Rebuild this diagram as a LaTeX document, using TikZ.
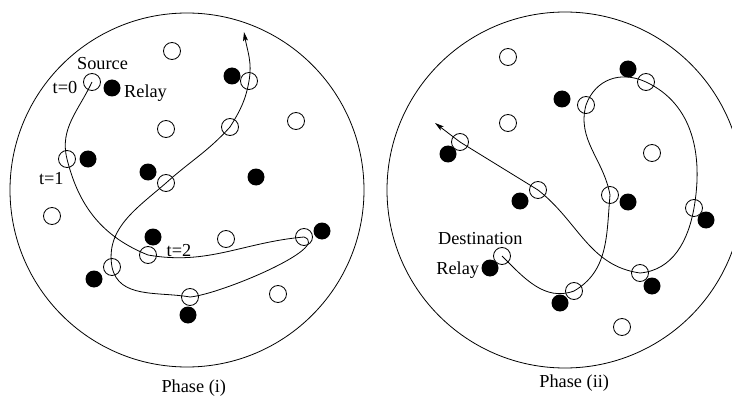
\documentclass[tikz,border=0pt]{standalone}
\usepackage{fontspec}
\setmainfont{Liberation Serif}
\usetikzlibrary{arrows.meta}

\begin{document}
\begin{tikzpicture}[x=1pt, y=1pt,
  user/.style={circle, draw, line width=0.8pt, minimum size=17pt, inner sep=0pt},
  relay/.style={circle, fill=black, minimum size=17pt, inner sep=0pt},
  route/.style={line width=0.8pt, -{Stealth[length=9pt, width=5pt, inset=2pt]}},
  tag/.style={font=\fontsize{18.3}{22}\selectfont, inner sep=0pt}]
  \useasboundingbox (0,0) rectangle (732,-396);

  % Phase (i) area
  \draw[line width=0.8pt] (187,-190) circle[radius=177pt];

  % nodes on the path of phase (i)
  \foreach \n/\x/\y in {src/92/82, hop1/67/159, hop2/148/255, p3/304/237,
                        p4/190/297, p5/112/267, p6/166/183, p7/230/127, p8/249/81}
    \node[user] (\n) at (\x,-\y) {};
  % other users
  \foreach \n/\x/\y in {u1/172/51, u2/166/129, u3/296/121, u4/52/216,
                        u5/226/239, u6/278/294}
    \node[user] (\n) at (\x,-\y) {};
  % relays
  \foreach \n/\x/\y in {r1/112/88, r2/232/76, r3/88/159, r4/148/172, r5/256/177,
                        r6/153/237, r7/322/231, r8/94/279, r9/188/315}
    \node[relay] (\n) at (\x,-\y) {};
  \coordinate (endL) at (244,-32);

  \draw[route] (src.center) to[out=-115, in=104] (hop1.center)
    to[out=-76, in=158] (hop2.center)
    to[out=-10, in=185] (p3.center)
    to[out=-20, in=5, looseness=0.6] (p4.center)
    to[out=170, in=-78] (p5.center)
    to[out=100, in=221] (p6.center)
    to[out=42, in=228] (p7.center)
    to[out=58, in=-100] (p8.center)
    to[out=80, in=-80] (endL);

  \node[tag, anchor=base] (lblSrc) at (102.5,-70) {Source};
  \node[tag, anchor=base] (lblT0) at (65,-94) {t=0};
  \node[tag, anchor=base west] (lblRelayL) at (124,-97.7) {Relay};
  \node[tag, anchor=base] (lblT1) at (51.3,-185) {t=1};
  \node[tag, anchor=base] (lblT2) at (179,-256) {t=2};
  \node[tag, anchor=base] (lblPhaseA) at (193.8,-392.7) {Phase (i)};

  % Phase (ii) area
  \draw[line width=0.8pt] (565,-190) circle[radius=178pt];

  % nodes on the path of phase (ii)
  \foreach \n/\x/\y in {dst/502/256, q1/574/291, q2/610/195, q3/586/105,
                        q4/646/82, q5/694/208, q6/640/273, q7/538/190, q8/460/142}
    \node[user] (\n) at (\x,-\y) {};
  % other users
  \foreach \n/\x/\y in {v1/508/57, v2/508/123, v3/652/153, v4/622/327}
    \node[user] (\n) at (\x,-\y) {};
  % relays
  \foreach \n/\x/\y in {s1/628/69, s2/562/99, s3/448/154, s4/520/201, s5/628/202,
                        s6/706/220, s7/490/268, s8/652/286, s9/560/303}
    \node[relay] (\n) at (\x,-\y) {};
  \coordinate (endR) at (435,-123);

  \draw[route] (dst.center) to[out=-45, in=200] (q1.center)
    to[out=30, in=-95] (q2.center)
    to[out=100, in=-105] (q3.center)
    to[out=70, in=155, looseness=1.1] (q4.center)
    to[out=-25, in=80] (q5.center)
    to[out=-100, in=5] (q6.center)
    to[out=172, in=-38] (q7.center)
    -- (q8.center) -- (endR);

  \node[tag, anchor=base] (lblDst) at (480.3,-244) {Destination};
  \node[tag, anchor=base east] (lblRelayR) at (479.3,-274) {Relay};
  \node[tag, anchor=base] (lblPhaseB) at (574.2,-387.3) {Phase (ii)};
\end{tikzpicture}
\end{document}
